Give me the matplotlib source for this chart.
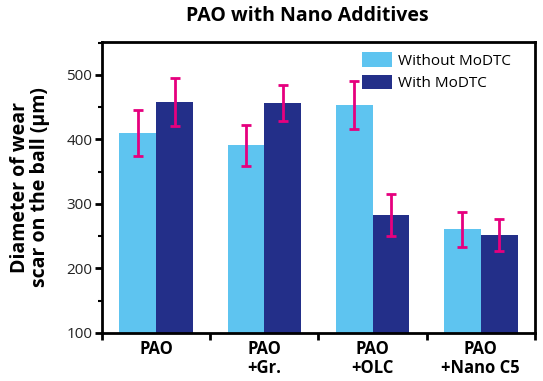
import numpy as np
import matplotlib
matplotlib.use("Agg")
import matplotlib.pyplot as plt
from matplotlib.ticker import MultipleLocator, FixedLocator

# ── Data ───────────────────────────────────────────────────────────────────────
categories = ["PAO", "PAO\n+Gr.", "PAO\n+OLC", "PAO\n+Nano C5"]
without_modtc = [410, 391, 453, 261]
without_err = [35, 32, 37, 27]
with_modtc = [458, 456, 283, 252]
with_err = [37, 28, 32, 25]

c_light = "#5EC4F0"
c_dark = "#232F89"
c_err = "#E6007E"

plt.rcParams["font.family"] = ["Open Sans", "DejaVu Sans"]

fig = plt.figure(figsize=(5.43, 3.81), dpi=100)
ax = fig.add_axes([0.188, 0.126, 0.797, 0.764])

x = np.arange(len(categories))
w = 0.34
ax.bar(x - w / 2, without_modtc, w, color=c_light, label="Without MoDTC")
ax.bar(x + w / 2, with_modtc, w, color=c_dark, label="With MoDTC")
ekw = dict(fmt="none", ecolor=c_err, elinewidth=2, capsize=3.5, capthick=2)
ax.errorbar(x - w / 2, without_modtc, yerr=without_err, **ekw)
ax.errorbar(x + w / 2, with_modtc, yerr=with_err, **ekw)

ax.set_xlim(-0.5, len(categories) - 0.5)
ax.set_ylim(100, 551)
ax.yaxis.set_major_locator(MultipleLocator(100))
ax.yaxis.set_minor_locator(MultipleLocator(50))

# group separators as major ticks, labels centred as minor ticks
ax.xaxis.set_major_locator(FixedLocator(np.arange(-0.5, len(categories), 1.0)))
ax.xaxis.set_major_formatter(plt.NullFormatter())
ax.xaxis.set_minor_locator(FixedLocator(x))
ax.set_xticklabels(categories, minor=True, fontweight="bold", fontsize=12,
                   linespacing=1.05)
ax.tick_params(axis="x", which="minor", length=0, pad=5)
ax.tick_params(axis="x", which="major", direction="out", length=5, width=2)
ax.tick_params(axis="y", which="major", direction="out", length=5, width=2,
               labelsize=11, pad=2, labelcolor="#222222")
ax.tick_params(axis="y", which="minor", direction="out", length=3, width=1.5)

for s in ax.spines.values():
    s.set_linewidth(2)

ax.set_ylabel("Diameter of wear\nscar on the ball (µm)", fontsize=14,
              fontweight="bold", linespacing=1.0, labelpad=12)
fig.suptitle("PAO with Nano Additives", x=0.566, y=0.985, fontsize=14,
             fontweight="bold")

ax.legend(loc="upper left", bbox_to_anchor=(0.584, 0.99), frameon=False,
          fontsize=11, handlelength=1.95, handleheight=1.05,
          borderaxespad=0, borderpad=0.5, labelspacing=0.4,
          handletextpad=0.4)

fig.savefig("out.png", dpi=100)
